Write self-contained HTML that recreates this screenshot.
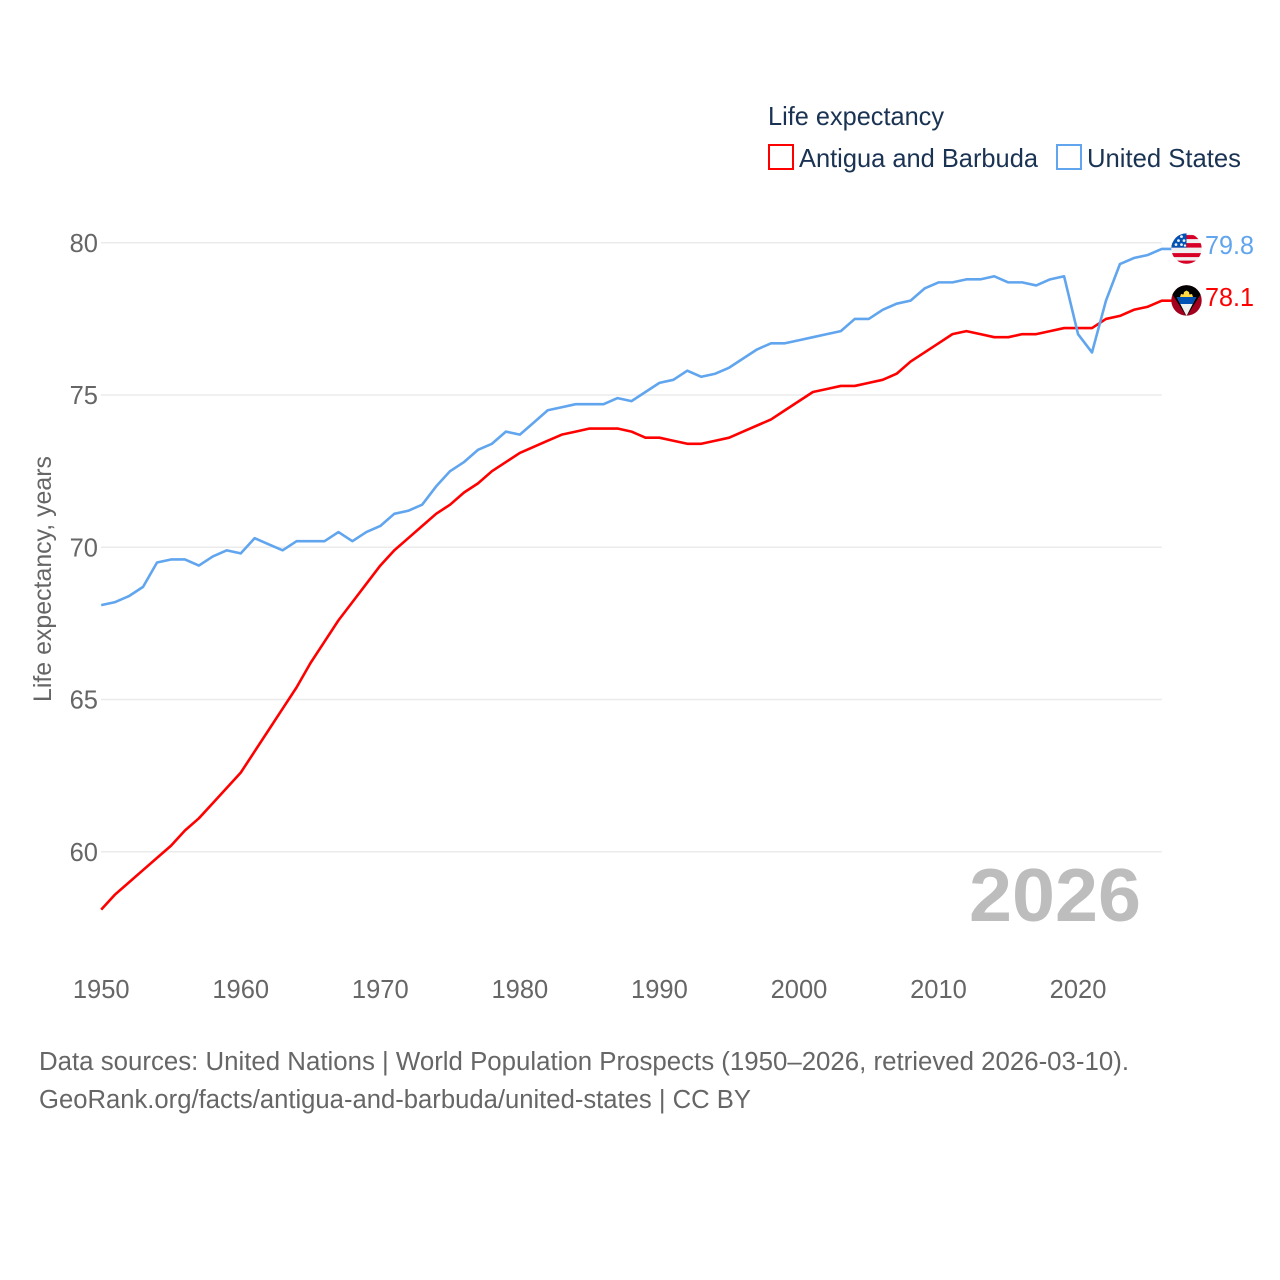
<!DOCTYPE html>
<html lang="en">
<head>
<meta charset="utf-8">
<title>Life expectancy: Antigua and Barbuda vs United States</title>
<style>
html,body{margin:0;padding:0;background:#fff;}
svg{display:block;}
text{font-family:"Liberation Sans",sans-serif;}
</style>
</head>
<body>
<svg id="chart" width="1280" height="1280" viewBox="0 0 1280 1280" xmlns="http://www.w3.org/2000/svg">
  <defs>
    <clipPath id="flag-clip-us"><circle cx="0" cy="0" r="15.2"></circle></clipPath>
    <clipPath id="flag-clip-ag"><circle cx="0" cy="0" r="15.2"></circle></clipPath>
  </defs>
  <rect width="1280" height="1280" fill="#ffffff"></rect>

  <g id="grid"></g>
  <g id="y-ticks"></g>
  <g id="x-ticks"></g>

  <text transform="translate(51,702) rotate(-90)" font-size="25" fill="#666666" textLength="246" lengthAdjust="spacingAndGlyphs">Life expectancy, years</text>

  <text x="969" y="921" font-size="75" font-weight="bold" fill="#bdbdbd" textLength="172" lengthAdjust="spacingAndGlyphs">2026</text>

  <g id="series"></g>

  <g id="flag-us">
    <g clip-path="url(#flag-clip-us)">
      <rect x="-16" y="-16" width="32" height="32" fill="#f0f0f0"></rect>
      <rect x="-16" y="-13.5" width="32" height="4" fill="#d80027"></rect>
      <rect x="-16" y="-5.5" width="32" height="4.5" fill="#d80027"></rect>
      <rect x="-16" y="4.5" width="32" height="4" fill="#d80027"></rect>
      <rect x="-16" y="12" width="32" height="4" fill="#d80027"></rect>
      <rect x="-16" y="-16" width="16" height="15" fill="#0052b4"></rect>
      <g fill="#f0f0f0">
        <circle cx="-10.5" cy="-4" r="1.4"></circle>
        <circle cx="-5" cy="-4" r="1.4"></circle>
        <circle cx="-8" cy="-8" r="1.4"></circle>
        <circle cx="-2.5" cy="-8" r="1.4"></circle>
        <circle cx="-5" cy="-12" r="1.4"></circle>
        <circle cx="-1.5" cy="-3" r="1.2"></circle>
      </g>
    </g>
  </g>

  <g id="flag-ag">
    <g clip-path="url(#flag-clip-ag)">
      <rect x="-16" y="-16" width="32" height="32" fill="#a2001d"></rect>
      <polygon points="-16,-16 16,-16 16,-9 0,16 -16,-9" fill="#000000"></polygon>
      <polygon points="-9.8,-3.5 9.8,-3.5 0,15.5" fill="#f0f0f0"></polygon>
      <polygon points="-9.8,-3.5 9.8,-3.5 6.2,3.5 -6.2,3.5" fill="#0052b4"></polygon>
      <polygon points="-6.5,-3.5 -5.5,-6.5 -3,-6 -2.5,-8.5 0,-10 2.5,-8.5 3,-6 5.5,-6.5 6.5,-3.5" fill="#ffda44"></polygon>
    </g>
  </g>

  <text id="value-us" x="1205" font-size="25.5" fill="#60a5ee" textLength="49" lengthAdjust="spacingAndGlyphs"></text>
  <text id="value-ag" x="1205" font-size="25.5" fill="#ff0000" textLength="49" lengthAdjust="spacingAndGlyphs"></text>

  <g>
    <text x="768" y="125" font-size="26" fill="#1a3353" textLength="176" lengthAdjust="spacingAndGlyphs">Life expectancy</text>
    <rect x="769" y="145" width="24" height="24" fill="none" stroke="#ff0000" stroke-width="2"></rect>
    <text x="799" y="167" font-size="26" fill="#1a3353" textLength="239" lengthAdjust="spacingAndGlyphs">Antigua and Barbuda</text>
    <rect x="1057" y="145" width="24" height="24" fill="none" stroke="#60a5ee" stroke-width="2"></rect>
    <text x="1087" y="167" font-size="26" fill="#1a3353" textLength="154" lengthAdjust="spacingAndGlyphs">United States</text>
  </g>

  <text x="39" y="1070" font-size="25.5" fill="#666666" textLength="1090" lengthAdjust="spacingAndGlyphs">Data sources: United Nations | World Population Prospects (1950–2026, retrieved 2026-03-10).</text>
  <text x="39" y="1108" font-size="25.5" fill="#666666" textLength="712" lengthAdjust="spacingAndGlyphs">GeoRank.org/facts/antigua-and-barbuda/united-states | CC BY</text>
</svg>

<script>
const firstYear = 1950;
const antiguaValues = [58.1,58.6,59.0,59.4,59.8,60.2,60.7,61.1,61.6,62.1,62.6,63.3,64.0,64.7,65.4,66.2,66.9,67.6,68.2,68.8,69.4,69.9,70.3,70.7,71.1,71.4,71.8,72.1,72.5,72.8,73.1,73.3,73.5,73.7,73.8,73.9,73.9,73.9,73.8,73.6,73.6,73.5,73.4,73.4,73.5,73.6,73.8,74.0,74.2,74.5,74.8,75.1,75.2,75.3,75.3,75.4,75.5,75.7,76.1,76.4,76.7,77.0,77.1,77.0,76.9,76.9,77.0,77.0,77.1,77.2,77.2,77.2,77.5,77.6,77.8,77.9,78.1];
const usValues = [68.1,68.2,68.4,68.7,69.5,69.6,69.6,69.4,69.7,69.9,69.8,70.3,70.1,69.9,70.2,70.2,70.2,70.5,70.2,70.5,70.7,71.1,71.2,71.4,72.0,72.5,72.8,73.2,73.4,73.8,73.7,74.1,74.5,74.6,74.7,74.7,74.7,74.9,74.8,75.1,75.4,75.5,75.8,75.6,75.7,75.9,76.2,76.5,76.7,76.7,76.8,76.9,77.0,77.1,77.5,77.5,77.8,78.0,78.1,78.5,78.7,78.7,78.8,78.8,78.9,78.7,78.7,78.6,78.8,78.9,77.0,76.4,78.1,79.3,79.5,79.6,79.8];
const yTickValues = [60,65,70,75,80];
const xTickValues = [1950,1960,1970,1980,1990,2000,2010,2020];

const NS = 'http://www.w3.org/2000/svg';
function xScale(year){ return 101.2 + (year - 1950) * 13.955; }
function yScale(value){ return 242.8 + (80 - value) * 30.45; }

const gridGroup = document.getElementById('grid');
const yTickGroup = document.getElementById('y-ticks');
const xTickGroup = document.getElementById('x-ticks');
const seriesGroup = document.getElementById('series');

yTickValues.forEach(function(v){
  const line = document.createElementNS(NS,'line');
  
  
  line.setAttribute('x1', 101);
  line.setAttribute('x2', xScale(2026));
  line.setAttribute('y1', yScale(v));
  line.setAttribute('y2', yScale(v));
  line.setAttribute('stroke', '#ebebeb');
  line.setAttribute('stroke-width', '1.5');
  gridGroup.appendChild(line);

  const label = document.createElementNS(NS,'text');
  
  
  label.setAttribute('x', 98);
  label.setAttribute('y', yScale(v) + 9);
  label.setAttribute('text-anchor', 'end');
  label.setAttribute('font-size', '25.5');
  label.setAttribute('fill', '#666666');
  label.textContent = v;
  yTickGroup.appendChild(label);
});

xTickValues.forEach(function(v){
  const label = document.createElementNS(NS,'text');
  
  
  label.setAttribute('x', xScale(v));
  label.setAttribute('y', 998);
  label.setAttribute('text-anchor', 'middle');
  label.setAttribute('font-size', '25.5');
  label.setAttribute('fill', '#666666');
  label.textContent = v;
  xTickGroup.appendChild(label);
});

function linePath(values){
  let d = '';
  values.forEach(function(v,i){
    d += (i ? 'L' : 'M') + xScale(firstYear + i).toFixed(2) + ' ' + yScale(v).toFixed(2);
  });
  const lastValue = values[values.length - 1];
  d += 'L' + (xScale(firstYear + values.length - 1) + 10).toFixed(2) + ' ' + yScale(lastValue).toFixed(2);
  return d;
}

const antiguaLine = document.createElementNS(NS,'path');


antiguaLine.setAttribute('d', linePath(antiguaValues));
antiguaLine.setAttribute('fill', 'none');
antiguaLine.setAttribute('stroke', '#ff0000');
antiguaLine.setAttribute('stroke-width', '2.6');
antiguaLine.setAttribute('stroke-linejoin', 'round');
seriesGroup.appendChild(antiguaLine);

const usLine = document.createElementNS(NS,'path');


usLine.setAttribute('d', linePath(usValues));
usLine.setAttribute('fill', 'none');
usLine.setAttribute('stroke', '#60a5ee');
usLine.setAttribute('stroke-width', '2.6');
usLine.setAttribute('stroke-linejoin', 'round');
seriesGroup.appendChild(usLine);

const usLast = usValues[usValues.length - 1];
const agLast = antiguaValues[antiguaValues.length - 1];
document.getElementById('flag-us').setAttribute('transform', 'translate(1186.5,' + (yScale(usLast) - 0.3) + ')');
document.getElementById('flag-ag').setAttribute('transform', 'translate(1186.5,' + (yScale(agLast) - 0.2) + ')');
const usLabel = document.getElementById('value-us');
usLabel.setAttribute('y', yScale(usLast) + 5.2);
usLabel.textContent = usLast.toFixed(1);
const agLabel = document.getElementById('value-ag');
agLabel.setAttribute('y', yScale(agLast) + 5.2);
agLabel.textContent = agLast.toFixed(1);
</script>
</body>
</html>
